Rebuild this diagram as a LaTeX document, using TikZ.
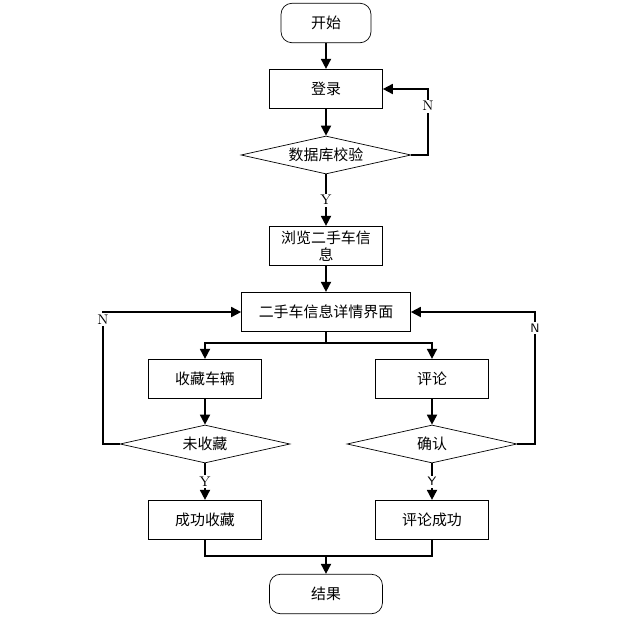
\documentclass[tikz,border=0pt]{standalone}
\usepackage{fontspec}
\newfontfamily\cjk{Noto Sans CJK SC}
\usepackage{tikz}
\usetikzlibrary{calc, shapes.geometric, arrows.meta}

\tikzset{
	box/.style={draw, thin, minimum width=2.26cm, minimum height=0.79cm, inner sep=0pt, font=\cjk\fontsize{8.5}{10}\selectfont, align=center},
	wide/.style={box, minimum width=3.38cm},
	term/.style={box, rounded corners=0.22cm},
	choice/.style={draw, thin, diamond, aspect=4.5, minimum width=3.4cm, minimum height=0.76cm, inner sep=0pt, font=\cjk\fontsize{8.5}{10}\selectfont},
	flow/.style={line width=1pt, -{Triangle[length=0.2cm, width=0.2cm]}},
	line/.style={line width=1pt},
	yn/.style={fill=white, inner sep=1pt, font=\fontsize{8}{9}\selectfont},
}

\begin{document}
\begin{tikzpicture}[x=0.02cm, y=-0.02cm]
	\useasboundingbox (0,0) rectangle (623,629);
	
	% nodes
	\node [term, minimum width=1.8cm] (start) at (326,23) {开始};
	\node [box] (login) at (326,89) {登录};
	\node [choice] (check) at (326,155) {数据库校验};
	\node [box] (browse) at (326,246) {浏览二手车信\\息};
	\node [wide] (detail) at (326,312) {二手车信息详情界面};
	\node [box] (fav) at (205,379) {收藏车辆};
	\node [box] (comment) at (432,379) {评论};
	\node [choice] (notfav) at (205,444) {未收藏};
	\node [choice] (confirm) at (432,444) {确认};
	\node [box] (favok) at (205,520) {成功收藏};
	\node [box] (commentok) at (432,520) {评论成功};
	\node [term] (result) at (326,594) {结果};
	
	\coordinate (split) at (326,343);
	\coordinate (merge) at (326,556);
	\coordinate (loopA) at (428,155);
	\coordinate (loopL) at (103,444);
	\coordinate (loopR) at (535,444);
	
	% connectors
	\draw [flow] (start) -- (login);
	\draw [flow] (login) -- (check);
	\draw [flow] (check.east) -- (loopA) |- node [yn, pos=0.37] {N} (login.east);
	\draw [flow] (check) -- node [yn, pos=0.5] {Y} (browse);
	\draw [flow] (browse) -- (detail);
	\draw [line] (detail.south) -- (split);
	\draw [flow] (split) -| (fav.north);
	\draw [flow] (split) -| (comment.north);
	\draw [flow] (fav) -- (notfav);
	\draw [flow] (comment) -- (confirm);
	\draw [flow] (notfav.west) -- (loopL) |- node [yn, pos=0.47] {N} (detail.west);
	\draw [flow] (confirm.east) -- (loopR) |- node [yn, pos=0.44, font=\sffamily\fontsize{7}{8}\selectfont] {N} (detail.east);
	\draw [flow] (notfav) -- node [yn, pos=0.5] {Y} (favok);
	\draw [flow] (confirm) -- node [yn, pos=0.5, font=\sffamily\fontsize{7}{8}\selectfont] {Y} (commentok);
	\draw [line] (favok.south) |- (merge) -| (commentok.south);
	\draw [flow] (merge) -- (result);
\end{tikzpicture}
\end{document}
